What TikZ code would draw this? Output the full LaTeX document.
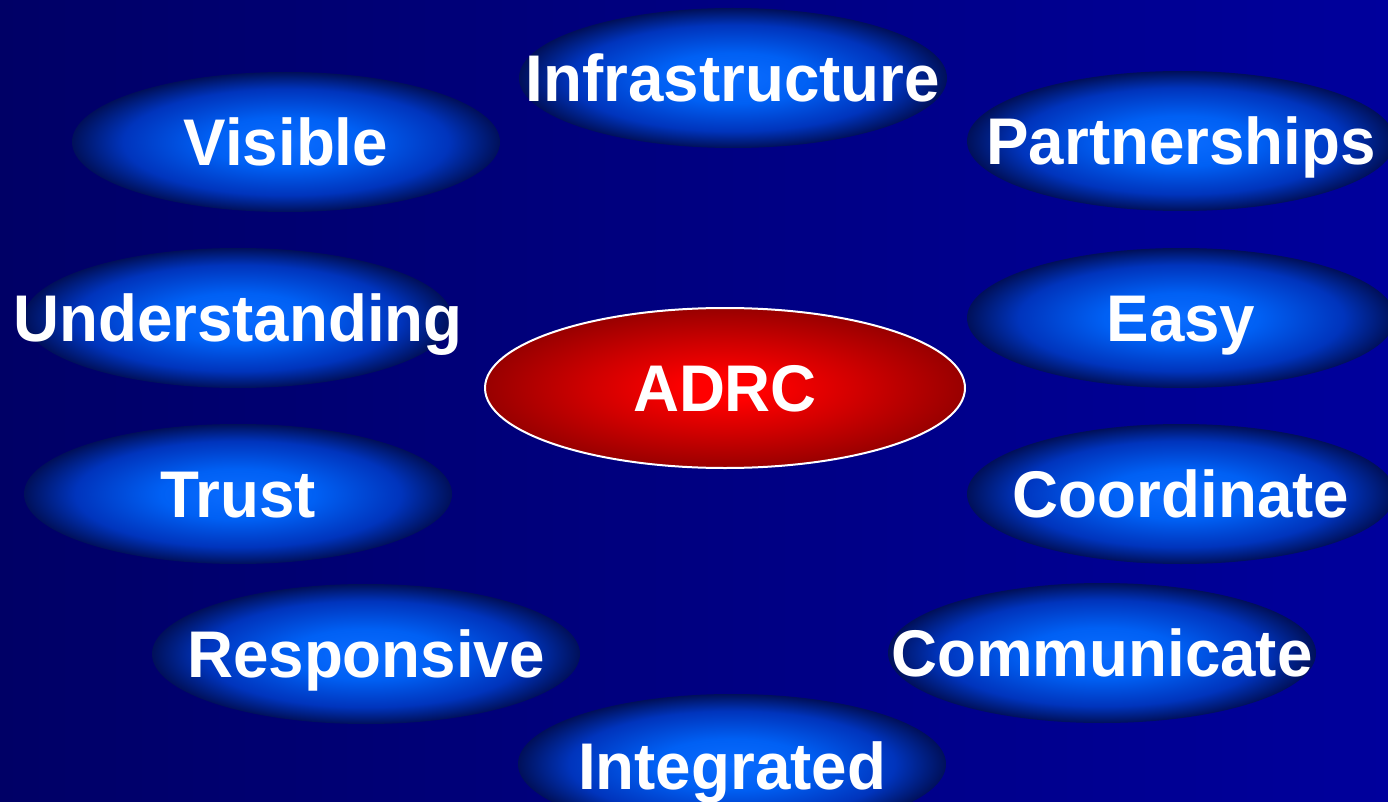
\documentclass[tikz,border=0pt]{standalone}
\usepackage{fontspec}
\setmainfont{Liberation Sans}[FakeStretch=0.965]
\usetikzlibrary{shapes.geometric}
\definecolor{bgl}{HTML}{000066}
\definecolor{bgr}{HTML}{00009C}
\definecolor{bcore}{HTML}{0A6CFF}
\definecolor{bmid}{HTML}{0060F4}
\definecolor{bouter}{HTML}{0034BC}
\definecolor{bedge}{HTML}{00105A}
\definecolor{rcore}{HTML}{FF0000}
\definecolor{rmid}{HTML}{D00000}
\definecolor{redge}{HTML}{980000}
\pgfdeclareradialshading{blueglow}{\pgfpoint{0bp}{0bp}}{color(0bp)=(bcore); color(9bp)=(bmid); color(19bp)=(bouter); color(25bp)=(bedge); color(50bp)=(bedge)}
\pgfdeclareradialshading{redglow}{\pgfpoint{0bp}{0bp}}{color(0bp)=(rcore); color(4bp)=(rcore); color(14bp)=(rmid); color(25bp)=(redge); color(50bp)=(redge)}
\tikzset{
  glow/.style={ellipse, minimum width=428pt, minimum height=140pt, inner sep=0pt, shading=blueglow},
  hub/.style={ellipse, minimum width=480pt, minimum height=160pt, inner sep=0pt, shading=redglow, draw=white, line width=2pt},
  word/.style={text=white, font=\fontsize{66}{70}\selectfont\bfseries, inner sep=0pt, text height=47pt, text depth=0pt}
}
\begin{document}
\begin{tikzpicture}[x=1pt,y=-1pt]
\useasboundingbox (0,0) rectangle (1388,802);
\clip (0,0) rectangle (1388,802);
\shade[left color=bgl, right color=bgr] (0,0) rectangle (1388,802);
\node[glow] (eInf) at (733,78) {};
\node[glow] (eVis) at (286,142) {};
\node[glow] (ePar) at (1181,141) {};
\node[glow] (eUnd) at (238,318) {};
\node[glow] (eEas) at (1181,318) {};
\node[glow] (eTru) at (238,494) {};
\node[glow] (eCoo) at (1181,494) {};
\node[glow] (eRes) at (366,654) {};
\node[glow] (eCom) at (1102,653) {};
\node[glow] (eInt) at (732,764) {};
\node[hub] (eAdr) at (725,388) {};
\node[word] (tInf) at (eInf) {Infrastructure};
\node[word] (tVis) at (eVis) {Visible};
\node[word] (tPar) at (ePar) {Partnerships};
\node[word] (tUnd) at (eUnd) {Understanding};
\node[word] (tEas) at (eEas) {Easy};
\node[word] (tTru) at (eTru) {Trust};
\node[word] (tCoo) at (eCoo) {Coordinate};
\node[word] (tRes) at (eRes) {Responsive};
\node[word] (tCom) at (eCom) {Communicate};
\node[word] (tInt) at (732,766) {Integrated};
\node[word] (tAdr) at (eAdr) {ADRC};
\end{tikzpicture}
\end{document}
